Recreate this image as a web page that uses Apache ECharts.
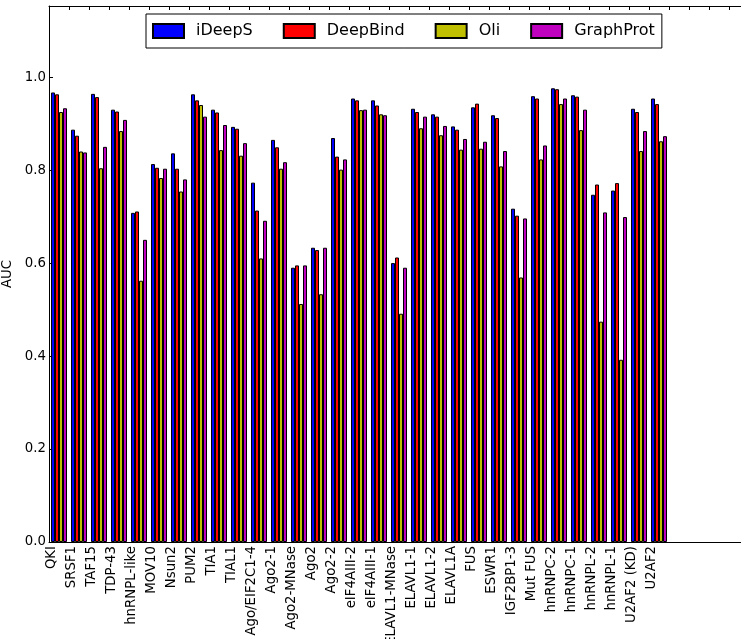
<!DOCTYPE html>
<html>
<head>
<meta charset="utf-8">
<script src="https://cdn.jsdelivr.net/npm/echarts@6/dist/echarts.min.js"></script>
<style>
    html, body { margin: 0; padding: 0; background: #fff; overflow: hidden; }
    /* 画布比窗口宽, 右侧坐标轴延伸到画面外 */
    #chart { width: 760px; height: 639px; }
</style>
</head>
<body>
<div id="chart"></div>
<script>
// 数据
let categories = ['QKI', 'SRSF1', 'TAF15', 'TDP-43', 'hnRNPL-like', 'MOV10', 'Nsun2', 'PUM2', 'TIA1', 'TIAL1',
    'Ago/EIF2C1-4', 'Ago2-1', 'Ago2-MNase', 'Ago2', 'Ago2-2', 'eIF4AIII-2', 'eIF4AIII-1', 'ELAVL1-MNase',
    'ELAVL1-1', 'ELAVL1-2', 'ELAVL1A', 'FUS', 'ESWR1', 'IGF2BP1-3', 'Mut FUS', 'hnRNPC-2', 'hnRNPC-1',
    'hnRNPL-2', 'hnRNPL-1', 'U2AF2 (KD)', 'U2AF2']
let seriesNames = ['iDeepS', 'DeepBind', 'Oli', 'GraphProt']
let ideeps = [0.967, 0.887, 0.964, 0.930, 0.708, 0.813, 0.836, 0.963, 0.930, 0.893, 0.773, 0.865, 0.590, 0.633,
    0.869, 0.954, 0.950, 0.600, 0.932, 0.920, 0.894, 0.935, 0.918, 0.717, 0.959, 0.976, 0.961, 0.747, 0.756, 0.932, 0.954]
let deepbind = [0.963, 0.874, 0.957, 0.926, 0.711, 0.805, 0.803, 0.950, 0.924, 0.889, 0.713, 0.849, 0.595, 0.628,
    0.829, 0.950, 0.939, 0.612, 0.925, 0.915, 0.887, 0.943, 0.912, 0.702, 0.954, 0.974, 0.958, 0.769, 0.772, 0.925, 0.942]
let oli = [0.925, 0.840, 0.804, 0.884, 0.562, 0.783, 0.754, 0.940, 0.843, 0.831, 0.610, 0.803, 0.512, 0.533,
    0.801, 0.929, 0.920, 0.491, 0.890, 0.875, 0.844, 0.846, 0.808, 0.569, 0.823, 0.942, 0.886, 0.474, 0.392, 0.841, 0.862]
let graphprot = [0.933, 0.838, 0.850, 0.908, 0.650, 0.803, 0.780, 0.915, 0.897, 0.858, 0.691, 0.817, 0.595, 0.633,
    0.823, 0.930, 0.918, 0.590, 0.915, 0.895, 0.867, 0.861, 0.841, 0.696, 0.853, 0.954, 0.930, 0.709, 0.699, 0.884, 0.873]
let colors = ['#0000ff', '#ff0000', '#bfbf00', '#bf00bf']

// x轴右侧留空
let extra = 4
let barCats = categories.concat(new Array(extra).fill(''))
let tickCats = categories.concat(new Array(extra + 1).fill(''))

let font = 'DejaVu Sans'
let fs = 13.3
let chart = echarts.init(document.getElementById('chart'))

let allData = [ideeps, deepbind, oli, graphprot]
let series = []
for (let i = 0; i < allData.length; i++) {
    series.push({
        name: seriesNames[i],
        type: 'bar',
        xAxisIndex: 0,
        yAxisIndex: 0,
        barWidth: 4,
        barGap: 0,
        data: allData[i],
        itemStyle: {
            color: colors[i],
            borderColor: '#000',
            borderWidth: 1
        }
    })
}

let option = {
    animation: false,
    backgroundColor: '#fff',
    grid: [
        { left: 49, width: 700, top: 6, bottom: 97, containLabel: false, outerBoundsMode: 'none' },
        // 标签用的网格
        { left: 52, width: 700, top: 6, bottom: 97, containLabel: false, outerBoundsMode: 'none' }
    ],
    legend: {
        data: seriesNames,
        left: 146,
        top: 14,
        orient: 'horizontal',
        icon: 'rect',
        itemWidth: 31,
        itemHeight: 14,
        itemGap: 30,
        padding: [9, 7, 9, 6],
        borderColor: '#000',
        borderWidth: 1,
        textStyle: {
            fontFamily: font,
            fontSize: 16,
            color: '#000',
            padding: [0, 0, 0, 7]
        }
    },
    xAxis: [
        {
            type: 'category',
            gridIndex: 0,
            data: barCats,
            position: 'bottom',
            axisLine: { show: true, lineStyle: { color: '#000', width: 1 } },
            axisTick: { show: false },
            axisLabel: { show: false },
            splitLine: { show: false }
        },
        {
            type: 'category',
            gridIndex: 0,
            data: tickCats,
            boundaryGap: false,
            position: 'top',
            axisLine: { show: true, lineStyle: { color: '#000', width: 1 } },
            axisTick: { show: true, inside: true, length: 4, interval: 0, lineStyle: { color: '#000' } },
            axisLabel: { show: false },
            splitLine: { show: false }
        },
        {
            type: 'category',
            gridIndex: 1,
            data: tickCats,
            boundaryGap: false,
            position: 'bottom',
            axisLine: { show: false },
            axisTick: { show: false },
            axisLabel: {
                interval: 0,
                rotate: 90,
                margin: 4,
                hideOverlap: false,
                fontFamily: font,
                fontSize: fs,
                color: '#000'
            },
            splitLine: { show: false }
        }
    ],
    yAxis: [
        {
            type: 'value',
            gridIndex: 0,
            min: 0,
            max: 1.153,
            interval: 0.2,
            name: 'AUC',
            nameLocation: 'middle',
            nameGap: 23,
            nameTextStyle: { fontFamily: font, fontSize: fs, color: '#000' },
            axisLine: { show: true, lineStyle: { color: '#000', width: 1 } },
            axisTick: { show: true, inside: true, length: 4, lineStyle: { color: '#000' } },
            axisLabel: {
                showMaxLabel: false,
                margin: 3,
                fontFamily: font,
                fontSize: fs,
                color: '#000',
                formatter: function (v) { return v.toFixed(1) }
            },
            splitLine: { show: false }
        },
        {
            type: 'value',
            gridIndex: 1,
            show: false,
            min: 0,
            max: 1
        }
    ],
    series: series
}

chart.setOption(option)
</script>
</body>
</html>
